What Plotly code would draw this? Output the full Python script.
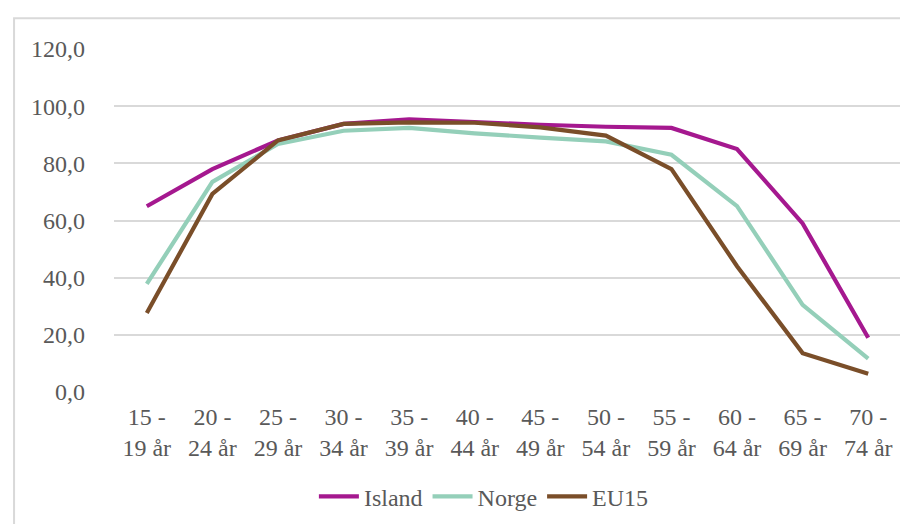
import plotly.graph_objects as go

categories = ["15 -<br>19 år", "20 -<br>24 år", "25 -<br>29 år", "30 -<br>34 år", "35 -<br>39 år",
              "40 -<br>44 år", "45 -<br>49 år", "50 -<br>54 år", "55 -<br>59 år", "60 -<br>64 år",
              "65 -<br>69 år", "70 -<br>74 år"]
island = [65.0, 78.0, 88.0, 93.8, 95.4, 94.3, 93.5, 92.8, 92.4, 85.0, 59.0, 19.0]
norge = [37.8, 73.5, 86.8, 91.4, 92.4, 90.5, 89.0, 87.7, 83.0, 65.0, 30.5, 11.7]
eu15 = [27.6, 69.3, 88.0, 93.8, 94.3, 94.2, 92.6, 89.7, 78.0, 44.0, 13.6, 6.4]
series_names = ["Island", "Norge", "EU15"]
colors = ["#A5188F", "#94CFB9", "#7A4E29"]
y_ticks = [0, 20, 40, 60, 80, 100, 120]

FONT = "Liberation Serif"
FS = 24
fig = go.Figure()
for name, vals, col in zip(series_names, [island, norge, eu15], colors):
    fig.add_trace(go.Scatter(x=categories, y=vals, mode="lines", name=name,
                             line=dict(color=col, width=4.2)))

fig.update_layout(
    width=908, height=524,
    margin=dict(l=106, r=15, t=41, b=140),
    paper_bgcolor="white", plot_bgcolor="white",
    font=dict(family=FONT, size=FS, color="#595959"),
    showlegend=True,
    legend=dict(orientation="h", x=0.47, xanchor="center", y=-0.24, yanchor="top",
                font=dict(family=FONT, size=FS, color="#595959"), itemwidth=40,
                tracegroupgap=0),
    xaxis=dict(showgrid=False, showline=False, ticks="", tickfont=dict(family=FONT, size=FS),
               range=[-0.5, 11.5], ticklabelstandoff=8, automargin=False),
    yaxis=dict(range=[0, 120], tickvals=y_ticks,
               ticktext=[f"{v:.1f}".replace(".", ",") for v in y_ticks],
               showgrid=True, gridcolor="#D9D9D9", gridwidth=1.5,
               zeroline=False, showline=False, ticks="", ticklabelstandoff=28,
               tickfont=dict(family=FONT, size=FS), automargin=False),
    shapes=[dict(type="rect", xref="paper", yref="paper",
                 x0=-0.127, x1=1.05, y0=-0.5, y1=1.09,
                 line=dict(color="#D9D9D9", width=2), fillcolor="rgba(0,0,0,0)", layer="below")],
)
fig.write_html("out.html")
